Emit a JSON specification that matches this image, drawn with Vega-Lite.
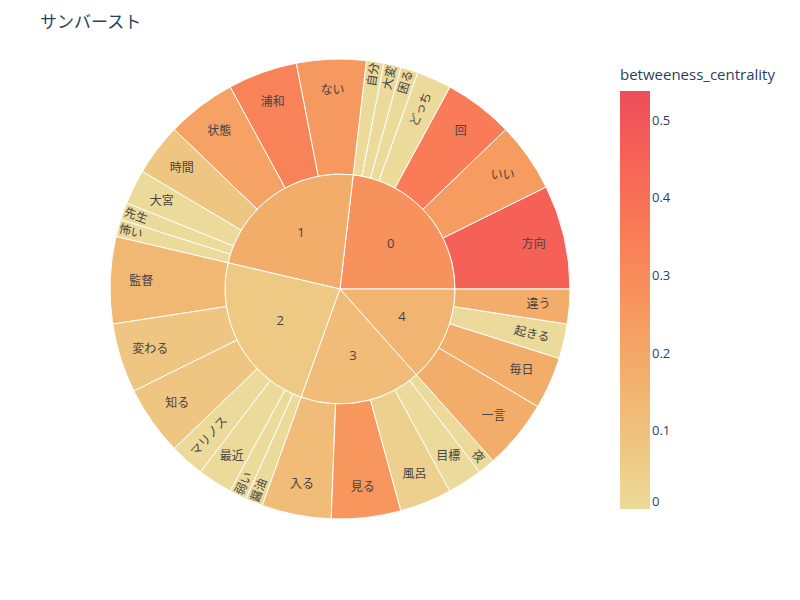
{
  "$schema": "https://vega.github.io/schema/vega-lite/v6.json",
  "width": 460,
  "height": 460,
  "autosize": {"type": "none"},
  "padding": {"left": 110, "top": 59, "right": 230, "bottom": 81},
  "title": {
    "text": "サンバースト",
    "anchor": "start",
    "frame": "group",
    "dx": -70,
    "offset": 25,
    "fontSize": 17,
    "font": "Noto Sans CJK JP",
    "fontWeight": "normal",
    "color": "#2a3f5f"
  },
  "config": {
    "view": {"stroke": null},
    "font": "Noto Sans CJK JP",
    "legend": {
      "orient": "none",
      "legendX": 510,
      "legendY": 9,
      "gradientLength": 418,
      "gradientThickness": 30,
      "gradientStrokeWidth": 0,
      "titleFontSize": 15,
      "titleFont": "Open Sans",
      "titleFontWeight": "normal",
      "titleColor": "#2a3f5f",
      "titlePadding": 8,
      "labelFont": "Open Sans",
      "labelFontSize": 13,
      "labelColor": "#2a3f5f",
      "labelOffset": 4,
      "labelOverlap": false,
      "labelBaseline": "middle"
    }
  },
  "datasets": {
    "leaves": [
      {"cluster": "0", "word": "方向", "value": 6, "betweeness_centrality": 0.46},
      {"cluster": "0", "word": "いい", "value": 4, "betweeness_centrality": 0.24},
      {"cluster": "0", "word": "回", "value": 4, "betweeness_centrality": 0.36},
      {"cluster": "0", "word": "どっち", "value": 2, "betweeness_centrality": 0},
      {"cluster": "0", "word": "困る", "value": 1, "betweeness_centrality": 0},
      {"cluster": "0", "word": "大変", "value": 1, "betweeness_centrality": 0},
      {"cluster": "0", "word": "自分", "value": 1, "betweeness_centrality": 0},
      {"cluster": "1", "word": "ない", "value": 4, "betweeness_centrality": 0.25},
      {"cluster": "1", "word": "浦和", "value": 4, "betweeness_centrality": 0.33},
      {"cluster": "1", "word": "状態", "value": 4, "betweeness_centrality": 0.22},
      {"cluster": "1", "word": "時間", "value": 3, "betweeness_centrality": 0.08},
      {"cluster": "1", "word": "大宮", "value": 2, "betweeness_centrality": 0},
      {"cluster": "1", "word": "先生", "value": 1, "betweeness_centrality": 0},
      {"cluster": "1", "word": "怖い", "value": 1, "betweeness_centrality": 0},
      {"cluster": "2", "word": "監督", "value": 5, "betweeness_centrality": 0.135},
      {"cluster": "2", "word": "変わる", "value": 4, "betweeness_centrality": 0.08},
      {"cluster": "2", "word": "知る", "value": 4, "betweeness_centrality": 0.08},
      {"cluster": "2", "word": "マリノス", "value": 2, "betweeness_centrality": 0},
      {"cluster": "2", "word": "最近", "value": 2, "betweeness_centrality": 0},
      {"cluster": "2", "word": "弱い", "value": 1, "betweeness_centrality": 0},
      {"cluster": "2", "word": "醤油", "value": 1, "betweeness_centrality": 0},
      {"cluster": "3", "word": "入る", "value": 4, "betweeness_centrality": 0.12},
      {"cluster": "3", "word": "見る", "value": 4, "betweeness_centrality": 0.26},
      {"cluster": "3", "word": "風呂", "value": 3, "betweeness_centrality": 0.04},
      {"cluster": "3", "word": "目標", "value": 2, "betweeness_centrality": 0},
      {"cluster": "3", "word": "夜", "value": 1, "betweeness_centrality": 0},
      {"cluster": "4", "word": "一言", "value": 4, "betweeness_centrality": 0.18},
      {"cluster": "4", "word": "毎日", "value": 3, "betweeness_centrality": 0.18},
      {"cluster": "4", "word": "起きる", "value": 2, "betweeness_centrality": 0},
      {"cluster": "4", "word": "違う", "value": 2, "betweeness_centrality": 0.18}
    ],
    "clusters": [
      {"cluster": "0", "value": 19, "betweeness_centrality": 0.275},
      {"cluster": "1", "value": 19, "betweeness_centrality": 0.18},
      {"cluster": "2", "value": 19, "betweeness_centrality": 0.07},
      {"cluster": "3", "value": 14, "betweeness_centrality": 0.12},
      {"cluster": "4", "value": 11, "betweeness_centrality": 0.15}
    ]
  },
  "layer": [
    {
      "data": {"name": "clusters"},
      "transform": [{"stack": "value", "groupby": [], "as": ["t0", "t1"]}],
      "mark": {"type": "arc", "radius": 115, "radius2": 0, "stroke": "#ffffff", "strokeWidth": 1},
      "encoding": {
        "theta": {"field": "t0", "type": "quantitative", "scale": {"domain": [0, 82], "range": [1.5707963, -4.712389]}},
        "theta2": {"field": "t1"},
        "color": {
          "field": "betweeness_centrality",
          "type": "quantitative",
          "title": "betweeness_centrality",
          "scale": {
            "domain": [0, 0.538],
            "range": ["rgb(236,218,154)", "rgb(239,196,126)", "rgb(243,173,106)", "rgb(247,148,93)", "rgb(249,123,87)", "rgb(246,99,86)", "rgb(238,77,90)"],
            "interpolate": "rgb"
          },
          "legend": {"values": [0, 0.1, 0.2, 0.3, 0.4, 0.5], "format": "~g", "labelBaseline": "middle"}
        }
      }
    },
    {
      "data": {"name": "leaves"},
      "transform": [{"stack": "value", "groupby": [], "as": ["t0", "t1"]}],
      "mark": {"type": "arc", "radius": 230, "radius2": 115, "stroke": "#ffffff", "strokeWidth": 1},
      "encoding": {
        "theta": {"field": "t0", "type": "quantitative", "scale": {"domain": [0, 82], "range": [1.5707963, -4.712389]}},
        "theta2": {"field": "t1"},
        "color": {"field": "betweeness_centrality", "type": "quantitative"}
      }
    },
    {
      "data": {"name": "clusters"},
      "transform": [
        {"stack": "value", "groupby": [], "as": ["t0", "t1"]},
        {"fold": ["t0", "t1"], "as": ["k", "pos"]},
        {"aggregate": [{"op": "mean", "field": "pos", "as": "mid"}], "groupby": ["cluster"]}
      ],
      "mark": {"type": "text", "radius": 68, "fontSize": 13, "color": "#444444", "font": "Open Sans"},
      "encoding": {
        "theta": {"field": "mid", "type": "quantitative", "scale": {"domain": [0, 82], "range": [1.5707963, -4.712389]}},
        "text": {"field": "cluster"}
      }
    },
    {
      "data": {"name": "leaves"},
      "transform": [
        {"stack": "value", "groupby": [], "as": ["t0", "t1"]},
        {"fold": ["t0", "t1"], "as": ["k", "pos"]},
        {"aggregate": [{"op": "mean", "field": "pos", "as": "mid"}], "groupby": ["cluster", "word", "value"]},
        {"filter": "!(datum.value == 1 || (datum.value == 2 && length(datum.word) >= 3))"}
      ],
      "mark": {"type": "text", "radius": 199, "fontSize": 12, "color": "#444444"},
      "encoding": {
        "theta": {"field": "mid", "type": "quantitative", "scale": {"domain": [0, 82], "range": [1.5707963, -4.712389]}},
        "text": {"field": "word"}
      }
    },
    {
      "data": {"name": "leaves"},
      "transform": [
        {"stack": "value", "groupby": [], "as": ["t0", "t1"]},
        {"fold": ["t0", "t1"], "as": ["k", "pos"]},
        {"aggregate": [{"op": "mean", "field": "pos", "as": "mid"}], "groupby": ["cluster", "word", "value"]},
        {"filter": "(datum.value == 1 || (datum.value == 2 && length(datum.word) >= 3)) && (datum.mid < 20.5 || datum.mid > 61.5)"}
      ],
      "mark": {"type": "text", "fontSize": 12, "color": "#444444"},
      "encoding": {
        "theta": {"field": "mid", "type": "quantitative", "scale": {"domain": [0, 82], "range": [1.5707963, -4.712389]}},
        "radius": {"field": "value", "type": "quantitative", "scale": {"type": "linear", "domain": [1, 2], "range": [217, 197], "zero": false}},
        "angle": {"field": "mid", "type": "quantitative", "scale": {"domain": [0, 82], "range": [360, 0], "zero": false}, "legend": null},
        "text": {"field": "word"}
      }
    },
    {
      "data": {"name": "leaves"},
      "transform": [
        {"stack": "value", "groupby": [], "as": ["t0", "t1"]},
        {"fold": ["t0", "t1"], "as": ["k", "pos"]},
        {"aggregate": [{"op": "mean", "field": "pos", "as": "mid"}], "groupby": ["cluster", "word", "value"]},
        {"filter": "(datum.value == 1 || (datum.value == 2 && length(datum.word) >= 3)) && datum.mid >= 20.5 && datum.mid <= 61.5"}
      ],
      "mark": {"type": "text", "fontSize": 12, "color": "#444444"},
      "encoding": {
        "theta": {"field": "mid", "type": "quantitative", "scale": {"domain": [0, 82], "range": [1.5707963, -4.712389]}},
        "radius": {"field": "value", "type": "quantitative", "scale": {"type": "linear", "domain": [1, 2], "range": [217, 197], "zero": false}},
        "angle": {"field": "mid", "type": "quantitative", "scale": {"domain": [0, 82], "range": [180, -180], "zero": false}, "legend": null},
        "text": {"field": "word"}
      }
    }
  ],
  "resolve": {"scale": {"angle": "independent"}}
}
